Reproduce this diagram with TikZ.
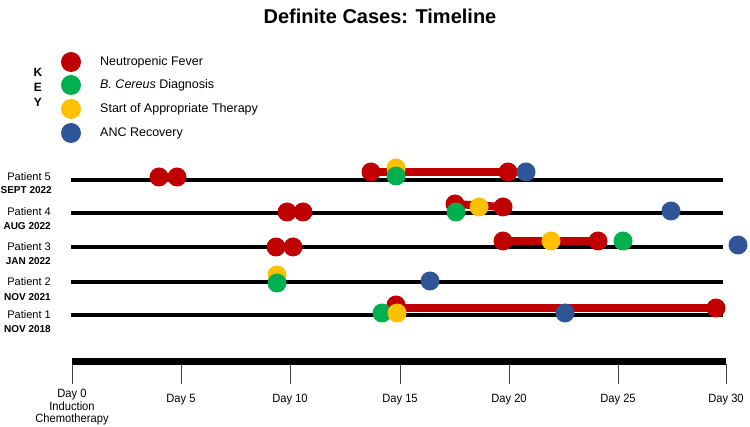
\documentclass[tikz,border=0pt]{standalone}
\usepackage{fontspec}
\setmainfont{Liberation Sans}
\newfontfamily\narrowfont[FakeStretch=0.93]{Liberation Sans}
\usetikzlibrary{backgrounds}
\definecolor{fever}{HTML}{C00000}
\definecolor{diag}{HTML}{00B050}
\definecolor{ther}{HTML}{FFC000}
\definecolor{anc}{HTML}{2F5597}
\begin{document}
\begin{tikzpicture}[x=1pt,y=-1pt,
  dot/.style={circle,inner sep=0pt,minimum size=19pt,draw=none},
  fev/.style={dot,fill=fever},
  dia/.style={dot,fill=diag},
  thr/.style={dot,fill=ther},
  rec/.style={dot,fill=anc},
  keydot/.style={circle,inner sep=0pt,minimum size=20pt,draw=none},
  pline/.style={line width=3.5pt,black},
  rbar/.style={line width=8pt,fever},
  plabel/.style={anchor=east,inner sep=0pt,font=\fontsize{11}{13}\selectfont},
  pdate/.style={anchor=east,inner sep=0pt,font=\bfseries\fontsize{10}{12}\selectfont},
  keytxt/.style={anchor=west,inner sep=0pt,font=\fontsize{12.5}{15}\selectfont},
  keyletter/.style={inner sep=0pt,font=\bfseries\fontsize{12}{14}\selectfont},
  daylbl/.style={anchor=north,inner sep=0pt,align=center,font=\narrowfont\fontsize{12}{12.5}\selectfont},
  tick/.style={line width=1pt,black!75}]
\useasboundingbox (0,0) rectangle (750,427);

% title
\node[font=\bfseries\fontsize{20}{24}\selectfont] (title) at (380,16) {Definite Cases: Timeline};

% key
\node[keyletter] (kK) at (38,72) {K};
\node[keyletter] (kE) at (38,87) {E};
\node[keyletter] (kY) at (38,102) {Y};
\node[keydot,fill=fever] (key1) at (71,62) {};
\node[keydot,fill=diag] (key2) at (71,85) {};
\node[keydot,fill=ther] (key3) at (71,109) {};
\node[keydot,fill=anc] (key4) at (71,133) {};
\node[keytxt] (kt1) at (100,62) {Neutropenic Fever};
\node[keytxt] (kt2) at (100,85) {\textit{B. Cereus} Diagnosis};
\node[keytxt] (kt3) at (100,109) {Start of Appropriate Therapy};
\node[keytxt] (kt4) at (100,133) {ANC Recovery};

% patient labels
\node[plabel] (lp5) at (51,177) {Patient 5};
\node[pdate]  (dp5) at (52,190) {SEPT 2022};
\node[plabel] (lp4) at (51,212) {Patient 4};
\node[pdate]  (dp4) at (51,226) {AUG 2022};
\node[plabel] (lp3) at (51,247) {Patient 3};
\node[pdate]  (dp3) at (51,261) {JAN 2022};
\node[plabel] (lp2) at (51,282) {Patient 2};
\node[pdate]  (dp2) at (51,297) {NOV 2021};
\node[plabel] (lp1) at (51,315) {Patient 1};
\node[pdate]  (dp1) at (51,329) {NOV 2018};

% line end coordinates
\coordinate (l5s) at (71,180); \coordinate (l5e) at (723,180);
\coordinate (l4s) at (71,213); \coordinate (l4e) at (723,213);
\coordinate (l3s) at (71,247); \coordinate (l3e) at (723,247);
\coordinate (l2s) at (71,282); \coordinate (l2e) at (723,282);
\coordinate (l1s) at (71,315); \coordinate (l1e) at (723,315);

% Patient 5
\node[fev] (p5a) at (159,177) {};
\node[fev] (p5b) at (177,177) {};
\node[fev] (p5c) at (371,172) {};
\node[thr] (p5d) at (396,168) {};
\node[dia] (p5e) at (396,176) {};
\node[fev] (p5f) at (508,172) {};
\node[rec] (p5g) at (526,172) {};

% Patient 4
\node[fev] (p4a) at (287,212) {};
\node[fev] (p4b) at (303,212) {};
\node[fev] (p4c) at (455,204) {};
\node[dia] (p4d) at (456,212) {};
\node[thr] (p4e) at (479,207) {};
\node[fev] (p4f) at (503,207) {};
\node[rec] (p4g) at (671,211) {};

% Patient 3
\node[fev] (p3a) at (276,247) {};
\node[fev] (p3b) at (293,247) {};
\node[fev] (p3c) at (503,241) {};
\node[thr] (p3d) at (551,241) {};
\node[fev] (p3e) at (598,241) {};
\node[dia] (p3f) at (623,241) {};
\node[rec] (p3g) at (738,245) {};

% Patient 2
\node[thr] (p2a) at (277,275) {};
\node[dia] (p2b) at (277,283) {};
\node[rec] (p2c) at (430,281) {};

% Patient 1
\node[fev] (p1a) at (396,305) {};
\node[dia] (p1b) at (382,313) {};
\node[thr] (p1c) at (397,313) {};
\node[rec] (p1d) at (565,313) {};
\node[fev] (p1e) at (716,308) {};

\begin{scope}[on background layer]
  \draw[pline] (l5s) -- (l5e);
  \draw[pline] (l4s) -- (l4e);
  \draw[pline] (l3s) -- (l3e);
  \draw[pline] (l2s) -- (l2e);
  \draw[pline] (l1s) -- (l1e);
  \draw[rbar] (p5c.center) -- (p5f.center);
  \draw[rbar] (p4c.center) -- (p4f.center);
  \draw[rbar] (p3c.center) -- (p3e.center);
  \draw[rbar] (p1a.center |- p1e.center) -- (p1e.center);
\end{scope}

% axis
\coordinate (ax0) at (72,362);
\coordinate (ax30) at (726,362);
\foreach \i/\x/\y/\t in {0/72/389/{Day 0\\Induction\\Chemotherapy},1/181/394/{Day 5},2/290/394/{Day 10},3/400/394/{Day 15},4/509/394/{Day 20},5/618/394/{Day 25},6/726/394/{Day 30}}{
  \coordinate (tt\i) at (\x,364);
  \coordinate (tb\i) at (\x,384);
  \draw[tick] (tt\i) -- (tb\i);
  \node[daylbl] (day\i) at (\x,\y) {\t};
}
\draw[line width=7pt,black] (ax0) -- (ax30);
\end{tikzpicture}
\end{document}
